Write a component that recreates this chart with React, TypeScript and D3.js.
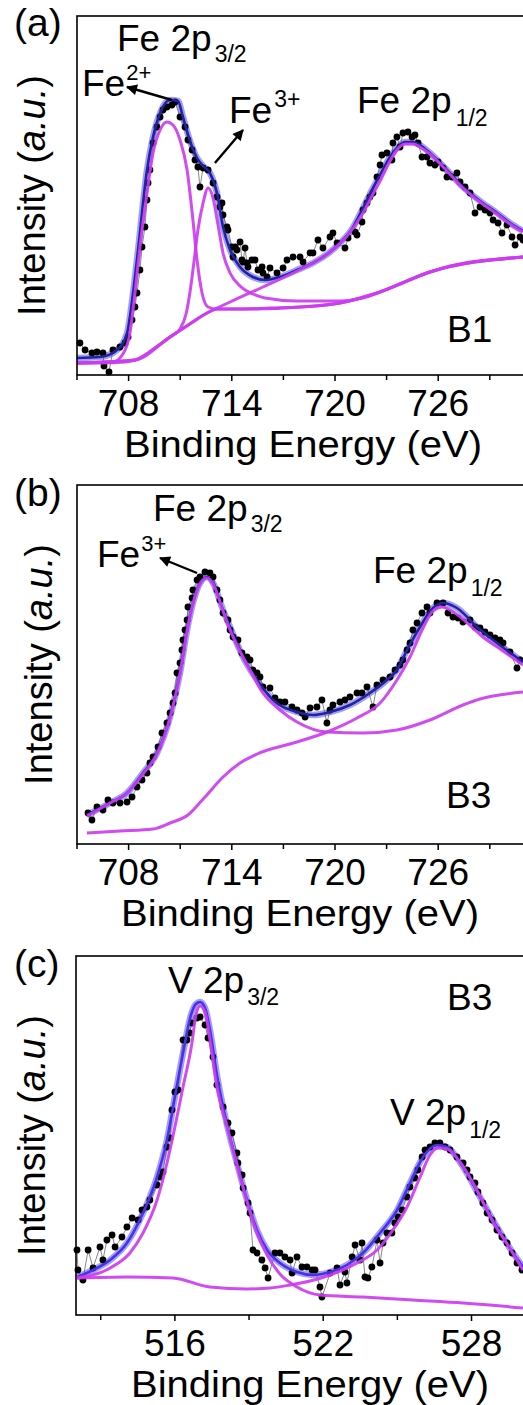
import React from 'react';
import * as d3 from 'd3';

type P = [number, number];

// ---------- Panel (a): Fe 2p, sample B1 ----------
const dataA: P[] = [
  [705.17, 3.2], [705.47, 2.5], [705.87, 2.2], [706.16, 2.3], [706.51, 2.2], [706.57, 0.9], [706.86, 0.3],
  [707.09, 2.5], [707.5, 2.8], [707.79, 3.2], [707.97, 3.8], [708.2, 5.5], [708.37, 6.8], [708.49, 8.2],
  [708.66, 10.5], [708.78, 12.8], [708.95, 14.8], [709.07, 17.5], [709.13, 19.2], [709.24, 20.5],
  [709.42, 23.2], [709.65, 24.8], [709.83, 25.8], [710.0, 26.5], [710.23, 26.8], [710.52, 27.0],
  [710.7, 27.3], [710.99, 25.8], [711.28, 24.8], [711.45, 23.5], [711.69, 22.5], [711.86, 21.5],
  [712.03, 20.8], [712.15, 18.8], [712.33, 20.7], [712.62, 20.5], [712.91, 19.2], [713.14, 17.8],
  [713.31, 16.8], [713.43, 17.2], [713.49, 16.0], [713.72, 14.8], [713.78, 14.5], [714.01, 12.8],
  [714.07, 11.8], [714.19, 12.8], [714.3, 12.5], [714.48, 13.3], [714.59, 11.5], [714.65, 11.3],
  [714.77, 12.7], [714.88, 11.2], [714.94, 10.8], [715.17, 11.5], [715.35, 11.5], [715.52, 10.5],
  [715.76, 10.8], [715.81, 10.2], [716.05, 9.8], [716.22, 10.7], [716.63, 10.2], [716.98, 10.7],
  [717.21, 11.5], [717.56, 11.8], [717.97, 11.8], [718.14, 11.3], [718.55, 12.2], [718.72, 12.2],
  [719.01, 13.5], [719.3, 12.7], [719.71, 13.8], [719.88, 14.2], [720.12, 13.2], [720.58, 12.7],
  [720.76, 13.7], [721.16, 14.3], [721.28, 14.0], [721.57, 15.3], [721.63, 16.5], [721.86, 17.2],
  [722.03, 17.8], [722.21, 18.2], [722.44, 19.8], [722.62, 21.0], [722.73, 22.0], [723.02, 22.2],
  [723.31, 21.5], [723.37, 23.2], [723.6, 23.8], [723.78, 22.8], [723.95, 24.2], [724.24, 24.3],
  [724.48, 23.8], [724.65, 24.0], [724.83, 23.2], [725.06, 21.8], [725.35, 21.8], [725.52, 21.2],
  [725.81, 21.0], [725.99, 21.3], [726.28, 20.7], [726.51, 19.8], [726.8, 19.8], [727.09, 20.2],
  [727.27, 19.3], [727.56, 18.8], [727.85, 18.2], [728.14, 16.2], [728.43, 16.8], [728.72, 16.5],
  [729.01, 16.2], [729.19, 15.5], [729.48, 15.2], [729.71, 14.2], [730.0, 15.0], [730.29, 13.8],
  [730.47, 13.0], [730.76, 13.8], [730.93, 13.5],
];
const envelopeA: P[] = [
  [705.0, 1.7], [706.34, 1.8], [707.33, 2.5], [707.91, 4.2], [708.26, 8.2], [708.55, 12.5], [709.07, 20.5],
  [709.42, 23.8], [709.83, 26.2], [710.41, 27.5], [710.87, 27.4], [711.16, 25.8], [711.57, 23.4],
  [711.98, 21.7], [712.33, 20.9], [712.73, 20.2], [713.14, 18.2], [713.49, 14.8], [713.9, 12.5],
  [714.48, 10.8], [715.23, 9.8], [715.93, 9.5], [716.8, 9.8], [717.79, 10.5], [718.72, 11.2],
  [719.71, 12.3], [720.29, 13.2], [720.99, 14.6], [721.63, 16.7], [722.15, 18.5], [722.62, 20.0],
  [723.2, 21.8], [723.6, 22.7], [724.07, 23.3], [724.53, 23.3], [724.94, 23.0], [725.52, 22.2],
  [726.4, 20.7], [727.44, 18.8], [728.43, 17.4], [729.42, 16.2], [730.17, 15.2], [730.93, 14.4],
];
const backgroundA: P[] = [
  [705.0, 1.2], [706.34, 1.2], [707.79, 1.3], [708.37, 1.5], [708.95, 2.0], [709.53, 2.7], [710.41, 3.8],
  [711.57, 5.1], [712.56, 6.2], [713.14, 6.6], [714.48, 6.6], [716.22, 6.7], [717.97, 6.8], [720.29, 7.2],
  [721.45, 7.7], [722.62, 8.3], [723.78, 9.1], [725.52, 10.3], [726.69, 10.9], [727.85, 11.3],
  [729.59, 11.6], [730.93, 11.8],
];
const fe2PeakA: P[] = [
  [705.0, 1.2], [707.09, 1.3], [707.67, 2.1], [708.08, 4.2], [708.37, 8.2], [708.66, 12.8], [709.07, 18.2],
  [709.42, 22.2], [709.83, 24.5], [710.23, 25.3], [710.58, 25.0], [710.99, 23.5], [711.4, 20.5],
  [711.74, 15.5], [711.98, 11.5], [712.27, 8.2], [712.62, 6.8], [713.14, 6.6], [715.06, 6.6],
  [717.97, 6.8], [720.29, 7.2], [722.62, 8.3], [725.52, 10.3], [730.93, 11.8],
];
const fe3PeakA: P[] = [
  [705.0, 1.2], [708.37, 1.5], [709.53, 2.7], [710.41, 3.8], [710.99, 4.6], [711.34, 6.1], [711.57, 8.3],
  [711.8, 11.3], [712.03, 14.5], [712.33, 17.2], [712.62, 18.7], [712.91, 17.7], [713.2, 15.0],
  [713.49, 12.2], [713.9, 10.2], [714.48, 8.9], [715.23, 8.1], [715.93, 7.7], [717.79, 7.4],
  [720.29, 7.4], [721.63, 7.7], [722.62, 8.3], [725.52, 10.3], [730.93, 11.8],
];
const p12PeakA: P[] = [
  [705.0, 1.2], [708.37, 1.5], [710.41, 3.8], [712.56, 6.2], [713.9, 7.3], [715.81, 8.8], [717.79, 10.4],
  [719.71, 12.3], [720.7, 13.9], [721.63, 16.2], [722.15, 17.9], [722.62, 19.4], [723.2, 21.4],
  [723.6, 22.5], [724.07, 23.1], [724.53, 23.1], [724.94, 22.8], [725.52, 22.1], [726.4, 20.6],
  [727.44, 18.7], [728.43, 17.3], [729.42, 16.1], [730.17, 15.1], [730.93, 14.3],
];

// ---------- Panel (b): Fe 2p, sample B3 ----------
const dataB: P[] = [
  [705.64, 3.1], [705.87, 2.4], [706.16, 3.7], [706.51, 3.4], [706.8, 4.4], [707.09, 4.1], [707.5, 4.1],
  [707.91, 4.2], [708.2, 4.7], [708.49, 5.7], [708.78, 6.4], [709.07, 7.1], [709.24, 8.1], [709.42, 8.7],
  [709.71, 9.7], [709.94, 11.1], [710.23, 12.1], [710.41, 13.1], [710.58, 14.1], [710.7, 15.1],
  [710.81, 17.1], [710.99, 18.1], [711.1, 19.4], [711.16, 20.4], [711.28, 21.4], [711.4, 22.4],
  [711.45, 23.7], [711.69, 24.6], [711.74, 25.4], [711.98, 26.4], [712.15, 26.7], [712.44, 27.2],
  [712.73, 27.1], [712.91, 26.7], [713.14, 25.4], [713.31, 24.4], [713.49, 23.1], [713.78, 22.4],
  [713.9, 21.4], [714.07, 20.7], [714.36, 20.4], [714.59, 19.1], [714.88, 18.7], [715.06, 18.4],
  [715.23, 17.4], [715.47, 17.1], [715.64, 16.7], [715.81, 15.7], [716.22, 15.6], [716.51, 14.6],
  [716.8, 14.2], [717.09, 14.2], [717.5, 13.7], [717.79, 13.4], [718.08, 13.1], [718.26, 12.7],
  [718.55, 13.6], [718.95, 13.7], [719.24, 14.4], [719.53, 12.1], [719.71, 13.4], [719.88, 13.9],
  [720.29, 14.2], [720.58, 14.4], [720.87, 14.7], [721.28, 15.1], [721.57, 15.1], [721.86, 15.7],
  [722.21, 13.7], [722.44, 15.9], [722.79, 16.4], [723.2, 16.7], [723.49, 17.4], [723.78, 17.9],
  [723.95, 18.4], [724.19, 19.4], [724.36, 20.1], [724.53, 21.4], [724.77, 22.1], [725.06, 23.1],
  [725.35, 23.7], [725.52, 23.1], [725.93, 24.1], [726.28, 24.1], [726.57, 23.1], [726.86, 22.7],
  [727.15, 22.6], [727.44, 22.2], [727.85, 22.4], [728.14, 21.7], [728.43, 21.6], [728.72, 21.2],
  [729.01, 20.9], [729.3, 20.6], [729.59, 20.4], [729.77, 20.1], [730.17, 19.2], [730.58, 17.6],
  [730.76, 18.4],
];
const envelopeB: P[] = [
  [705.58, 2.9], [706.92, 4.1], [707.91, 5.1], [708.84, 7.1], [709.65, 9.1], [710.41, 12.7], [710.99, 17.1],
  [711.4, 21.4], [711.74, 24.1], [712.15, 26.1], [712.56, 26.7], [712.91, 26.1], [713.49, 23.4],
  [713.9, 21.7], [714.65, 18.7], [715.47, 16.4], [716.4, 14.4], [717.79, 13.2], [718.72, 12.9],
  [719.71, 13.2], [720.87, 13.9], [722.03, 15.1], [723.02, 16.4], [723.6, 17.4], [724.19, 19.4],
  [724.94, 21.7], [725.7, 23.6], [726.28, 24.1], [727.09, 23.6], [728.26, 21.7], [729.42, 20.1],
  [730.93, 18.2],
];
const p32PeakB: P[] = [
  [705.58, 2.8], [706.92, 4.1], [707.91, 5.1], [708.84, 7.0], [709.65, 9.0], [710.41, 12.6], [710.99, 17.0],
  [711.4, 21.3], [711.74, 24.0], [712.15, 26.0], [712.56, 26.6], [712.91, 26.0], [713.49, 23.3],
  [713.9, 21.4], [715.06, 17.4], [715.81, 15.1], [716.8, 13.4], [717.79, 12.2], [719.53, 11.2],
  [721.63, 11.1], [723.6, 11.4], [725.52, 12.4], [727.44, 13.9], [728.43, 14.5], [730.93, 15.2],
];
const p12PeakB: P[] = [
  [705.58, 1.1], [707.5, 1.3], [709.42, 1.5], [710.41, 2.1], [711.45, 2.9], [712.44, 4.7], [713.49, 6.7],
  [714.48, 8.1], [715.47, 9.0], [717.79, 10.2], [719.53, 11.2], [721.28, 12.6], [722.62, 14.1],
  [723.6, 16.4], [724.36, 18.7], [725.12, 21.6], [725.7, 23.3], [726.22, 23.7], [726.8, 23.3],
  [727.56, 22.3], [728.6, 20.7], [729.77, 19.3], [730.93, 17.9],
];

// ---------- Panel (c): V 2p, sample B3 ----------
const dataC: P[] = [
  [512.04, 6.5], [512.08, 4.5], [512.28, 3.5], [512.49, 6.5], [512.69, 4.7], [512.97, 6.8], [513.09, 5.5],
  [513.25, 7.5], [513.46, 8.0], [513.58, 6.8], [513.86, 7.8], [514.06, 8.8], [514.27, 9.7], [514.51, 9.5],
  [514.67, 10.5], [514.87, 10.8], [514.99, 11.5], [515.28, 13.0], [515.4, 13.8], [515.52, 14.3],
  [515.68, 16.8], [515.8, 17.7], [515.88, 20.5], [516.0, 22.3], [516.13, 22.5], [516.33, 27.5],
  [516.49, 27.5], [516.6, 28.2], [516.69, 29.2], [516.89, 29.7], [517.02, 29.8], [517.22, 29.0],
  [517.34, 27.7], [517.54, 25.8], [517.7, 23.0], [517.95, 20.8], [518.15, 19.2], [518.31, 18.2],
  [518.51, 16.2], [518.55, 15.2], [518.72, 14.0], [518.76, 12.7], [518.96, 11.2], [519.04, 10.2],
  [519.16, 6.5], [519.32, 6.2], [519.52, 5.5], [519.65, 4.7], [519.77, 3.7], [520.05, 6.2],
  [520.25, 6.2], [520.45, 5.8], [520.66, 5.5], [520.74, 4.2], [520.94, 5.8], [521.14, 4.8],
  [521.34, 4.8], [521.55, 4.5], [521.67, 4.5], [521.87, 2.8], [521.95, 1.8], [522.28, 4.2],
  [522.56, 4.7], [522.68, 3.0], [522.88, 4.3], [522.96, 3.2], [523.17, 5.8], [523.29, 7.0],
  [523.49, 5.5], [523.57, 7.2], [523.69, 3.8], [523.81, 3.7], [523.97, 4.8], [524.18, 7.5],
  [524.3, 5.2], [524.42, 7.2], [524.58, 8.2], [524.78, 8.2], [524.9, 9.2], [525.03, 9.8],
  [525.19, 10.5], [525.39, 11.8], [525.51, 12.8], [525.71, 13.7], [525.83, 14.5], [526.0, 15.8],
  [526.12, 16.5], [526.32, 16.8], [526.52, 17.2], [526.72, 17.2], [526.93, 16.8], [527.13, 16.5],
  [527.41, 15.8], [527.66, 15.2], [527.82, 14.5], [527.94, 13.8], [528.14, 13.2], [528.26, 12.3],
  [528.46, 11.2], [528.63, 10.2], [528.83, 9.5], [529.03, 8.5], [529.23, 7.8], [529.44, 7.2],
  [529.64, 6.2], [529.84, 5.2], [530.04, 4.5],
];
const envelopeC: P[] = [
  [512.04, 3.8], [512.69, 4.5], [513.38, 5.5], [514.06, 7.2], [514.71, 10.2], [515.28, 13.8], [515.68, 17.5],
  [516.0, 21.8], [516.33, 26.2], [516.65, 30.0], [516.85, 31.1], [517.02, 31.3], [517.22, 30.7],
  [517.42, 28.5], [517.7, 24.0], [518.11, 19.0], [518.51, 15.2], [518.92, 11.5], [519.32, 8.5],
  [519.73, 6.5], [520.25, 5.2], [520.94, 4.3], [521.59, 4.0], [522.28, 4.3], [522.96, 5.0],
  [523.61, 6.2], [524.3, 8.2], [524.99, 10.5], [525.51, 13.2], [526.04, 15.8], [526.6, 17.0],
  [527.01, 16.8], [527.66, 14.8], [528.34, 11.8], [529.03, 8.8], [529.68, 6.2], [530.08, 4.8],
];
const p32PeakC: P[] = [
  [512.04, 3.7], [513.38, 4.7], [514.18, 6.2], [514.71, 8.2], [515.28, 11.5], [515.68, 15.2], [516.0, 18.8],
  [516.33, 22.8], [516.69, 27.2], [516.85, 30.0], [517.02, 30.9], [517.22, 30.3], [517.42, 27.5],
  [517.7, 22.8], [518.11, 18.8], [518.51, 15.0], [518.92, 11.3], [519.32, 8.2], [519.73, 6.0],
  [520.25, 4.1], [520.94, 2.8], [521.87, 2.0], [523.61, 1.8], [525.63, 1.5], [527.66, 1.2], [530.08, 0.7],
];
const p12PeakC: P[] = [
  [512.04, 3.7], [514.06, 3.8], [515.92, 3.7], [517.42, 2.8], [518.92, 2.6], [519.85, 2.7], [520.66, 3.0],
  [521.47, 3.4], [522.28, 4.0], [523.37, 5.2], [524.18, 6.5], [524.82, 8.5], [525.39, 10.8],
  [525.92, 13.8], [526.32, 16.0], [526.64, 16.7], [527.01, 16.6], [527.53, 15.3], [528.22, 12.5],
  [528.87, 9.3], [529.44, 7.1], [530.08, 4.5],
];

// ---------- ticks ----------
const feMajorTicks = [708, 714, 720, 726];
const feMinorTicks = [705, 711, 717, 723, 729];
const vMajorTicks = [516, 522, 528];
const vMinorTicks = [513, 519, 525, 531];

// ---------- arrows (data units) ----------
const arrowsA: [P, P][] = [
  [[710.52, 27.5], [707.91, 28.8]],
  [[713.02, 21.2], [714.65, 24.5]],
];
const arrowsB: [P, P][] = [[[711.98, 27.1], [709.83, 28.6]]];

const FONT = "'Liberation Sans', Arial, Helvetica, sans-serif";
const MAGENTA = '#cc3cf0';
const LIGHT = '#a0a0fc';

interface PanelCfg {
  top: number;
  bottom: number;
  left: number;
  pxPerEv: number;
  xDomain: [number, number];
  yMax: number;
  data: P[];
  envelope: P[];
  comps: P[][];
  major: number[];
  minor: number[];
  titleX: number;
  yTitleX: number;
  arrows: [P, P][];
  fitColor: string;
  children?: React.ReactNode;
}

function Panel(cfg: PanelCfg) {
  const x = d3
    .scaleLinear()
    .domain(cfg.xDomain)
    .range([cfg.left, cfg.left + (cfg.xDomain[1] - cfg.xDomain[0]) * cfg.pxPerEv]);
  const y = d3.scaleLinear().domain([0, cfg.yMax]).range([cfg.bottom, cfg.top]);
  const smooth = d3
    .line<P>()
    .x((d) => x(d[0]))
    .y((d) => y(d[1]))
    .curve(d3.curveMonotoneX);
  const straight = d3
    .line<P>()
    .x((d) => x(d[0]))
    .y((d) => y(d[1]));
  const right = x.range()[1];
  const yMid = (cfg.top + cfg.bottom) / 2;
  return (
    <g>
      <path d={smooth(cfg.envelope) || ''} fill="none" stroke={LIGHT} strokeWidth={6.5} strokeLinejoin="round" />
      <path d={straight(cfg.data) || ''} fill="none" stroke="#555" strokeWidth={0.7} />
      {cfg.data.map((d, i) => (
        <circle key={i} cx={x(d[0])} cy={y(d[1])} r={3.4} fill="#000" />
      ))}
      <path d={smooth(cfg.envelope) || ''} fill="none" stroke={cfg.fitColor} strokeWidth={2.6} strokeLinejoin="round" />
      {cfg.comps.map((c, i) => (
        <path key={i} d={smooth(c) || ''} fill="none" stroke={MAGENTA} strokeWidth={3} strokeLinejoin="round" opacity={0.92} />
      ))}
      <rect x={cfg.left} y={cfg.top} width={right - cfg.left} height={cfg.bottom - cfg.top} fill="none" stroke="#000" strokeWidth={1.6} />
      {cfg.major.map((t) => (
        <g key={'M' + t}>
          <line x1={x(t)} x2={x(t)} y1={cfg.bottom} y2={cfg.bottom + 6} stroke="#000" strokeWidth={1.5} />
          <text x={x(t)} y={cfg.bottom + 41} fontSize={37} textAnchor="middle" fontFamily={FONT}>
            {t}
          </text>
        </g>
      ))}
      {cfg.minor.map((t) => (
        <line key={'m' + t} x1={x(t)} x2={x(t)} y1={cfg.bottom} y2={cfg.bottom + 5} stroke="#000" strokeWidth={1.5} />
      ))}
      <text
        x={cfg.titleX}
        y={cfg.bottom + 82}
        fontSize={37}
        textAnchor="middle"
        fontFamily={FONT}
        textLength={358}
        lengthAdjust="spacingAndGlyphs"
      >
        Binding Energy (eV)
      </text>
      <text transform={`translate(${cfg.yTitleX},${yMid}) rotate(-90)`} fontSize={38} textAnchor="middle" fontFamily={FONT}>
        Intensity (<tspan fontStyle="italic">a.u.</tspan>)
      </text>
      {cfg.arrows.map((a, i) => (
        <line
          key={'a' + i}
          x1={x(a[0][0])}
          y1={y(a[0][1])}
          x2={x(a[1][0])}
          y2={y(a[1][1])}
          stroke="#000"
          strokeWidth={2.4}
          markerEnd="url(#arrowHead)"
        />
      ))}
      {cfg.children}
    </g>
  );
}

export default function App() {
  return (
    <svg
      width={523}
      height={1405}
      viewBox="0 0 523 1405"
      style={{ position: 'absolute', left: 0, top: 0, background: '#fff' }}
      fontFamily={FONT}
    >
      <defs>
        <marker id="arrowHead" viewBox="0 0 10 10" refX={9} refY={5} markerWidth={13} markerHeight={11} markerUnits="userSpaceOnUse" orient="auto">
          <path d="M0,0 L10,5 L0,10 z" fill="#000" />
        </marker>
      </defs>
      <rect x={0} y={0} width={523} height={1405} fill="#fff" />

      <Panel
        top={16}
        bottom={375}
        left={77}
        pxPerEv={17.2}
        xDomain={[705, 732]}
        yMax={35.9}
        data={dataA}
        envelope={envelopeA}
        comps={[backgroundA, fe2PeakA, fe3PeakA, p12PeakA]}
        major={feMajorTicks}
        minor={feMinorTicks}
        titleX={303}
        yTitleX={45}
        arrows={arrowsA}
        fitColor="#23239e"
      >
        <g fontSize={37} fill="#000">
          <text x={14} y={36} fontSize={39}>(a)</text>
          <text x={117} y={51}>
            Fe 2p<tspan dx={3} dy={11} fontSize={23}>3/2</tspan>
          </text>
          <text x={82} y={96}>
            Fe<tspan dx={1} dy={-16} fontSize={22}>2+</tspan>
          </text>
          <text x={229} y={123}>
            Fe<tspan dx={2} dy={-16.5} fontSize={23}>3+</tspan>
          </text>
          <text x={357} y={113}>
            Fe 2p<tspan dx={4} dy={13} fontSize={23}>1/2</tspan>
          </text>
          <text x={447} y={342}>B1</text>
        </g>
      </Panel>

      <Panel
        top={485}
        bottom={844}
        left={77}
        pxPerEv={17.2}
        xDomain={[705, 732]}
        yMax={35.9}
        data={dataB}
        envelope={envelopeB}
        comps={[p32PeakB, p12PeakB]}
        major={feMajorTicks}
        minor={feMinorTicks}
        titleX={300}
        yTitleX={52}
        arrows={arrowsB}
        fitColor="#23239e"
      >
        <g fontSize={37} fill="#000">
          <text x={14} y={506} fontSize={39}>(b)</text>
          <text x={153} y={521}>
            Fe 2p<tspan dx={3} dy={11} fontSize={23}>3/2</tspan>
          </text>
          <text x={97} y={567}>
            Fe<tspan dx={1} dy={-16} fontSize={22}>3+</tspan>
          </text>
          <text x={373} y={583}>
            Fe 2p<tspan dx={3} dy={13} fontSize={23}>1/2</tspan>
          </text>
          <text x={446} y={808}>B3</text>
        </g>
      </Panel>

      <Panel
        top={956}
        bottom={1315}
        left={76}
        pxPerEv={24.72}
        xDomain={[512, 531]}
        yMax={35.9}
        data={dataC}
        envelope={envelopeC}
        comps={[p32PeakC, p12PeakC]}
        major={vMajorTicks}
        minor={vMinorTicks}
        titleX={310}
        yTitleX={45}
        arrows={[]}
        fitColor="#4a30e8"
      >
        <g fontSize={37} fill="#000">
          <text x={14} y={977} fontSize={39}>(c)</text>
          <text x={168} y={993}>
            V 2p<tspan dx={3} dy={12} fontSize={23}>3/2</tspan>
          </text>
          <text x={447} y={1010}>B3</text>
          <text x={390} y={1125}>
            V 2p<tspan dx={3} dy={13} fontSize={23}>1/2</tspan>
          </text>
        </g>
      </Panel>
    </svg>
  );
}
